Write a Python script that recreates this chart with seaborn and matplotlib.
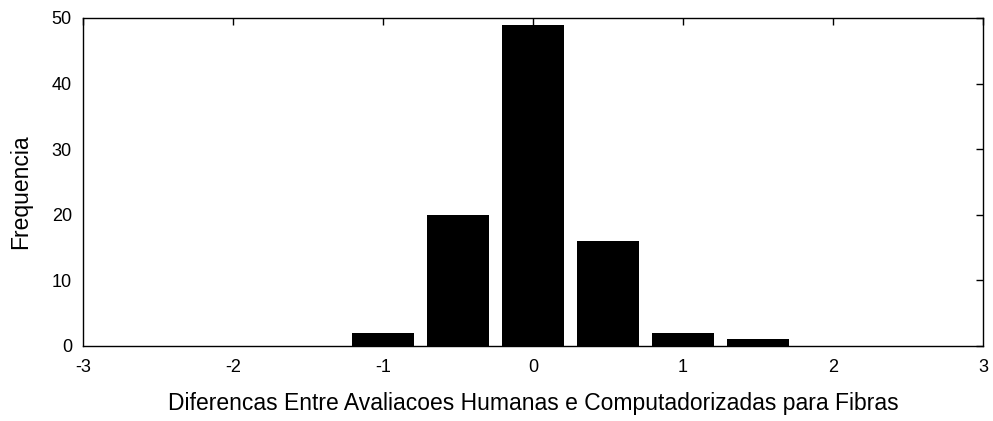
import matplotlib
matplotlib.use("Agg")
import matplotlib.pyplot as plt
import seaborn as sns
import pandas as pd

diferencas = [-1.0, -0.5, 0.0, 0.5, 1.0, 1.5]
frequencia = [2, 20, 49, 16, 2, 1]
xticks = [-3, -2, -1, 0, 1, 2, 3]
yticks = [0, 10, 20, 30, 40, 50]

sns.set_theme(style="white")
plt.rcParams['font.family'] = ['Liberation Sans', 'DejaVu Sans']
plt.rcParams['text.color'] = 'black'
plt.rcParams['axes.labelcolor'] = 'black'

df = pd.DataFrame({"x": diferencas, "y": frequencia})

fig = plt.figure(figsize=(9.93, 4.21), dpi=100)
ax = fig.add_axes([83/993, 1 - 346/421, 900/993, 328/421])
sns.barplot(data=df, x="x", y="y", native_scale=True, width=0.83,
            color="black", saturation=1, edgecolor="none", ax=ax, errorbar=None)

ax.set_xlim(-3, 3)
ax.set_ylim(0, 50)
ax.set_xticks(xticks)
ax.set_xticklabels([str(t) for t in xticks])
ax.set_yticks(yticks)
ax.set_yticklabels([str(t) for t in yticks])
ax.set_xlabel("Diferencas Entre Avaliacoes Humanas e Computadorizadas para Fibras",
              fontsize=16.5, color="black")
ax.set_ylabel("Frequencia", fontsize=16.5, color="black")
ax.xaxis.set_label_coords(0.5, -0.140)
ax.yaxis.set_label_coords(-0.056, 0.47)
ax.tick_params(direction="in", length=5, width=1, top=True, right=True,
               labelsize=13, colors="black", labelcolor="black")
ax.tick_params(axis="x", pad=9)
ax.tick_params(axis="y", pad=8)
for s in ax.spines.values():
    s.set_visible(True)
    s.set_color("black")
    s.set_linewidth(1)

fig.savefig("out.png", dpi=100)
